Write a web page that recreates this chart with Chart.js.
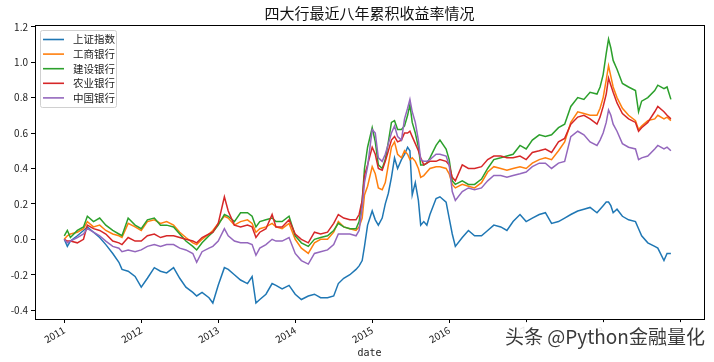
<!DOCTYPE html>
<html>
<head>
<meta charset="utf-8">
<script src="https://cdn.jsdelivr.net/npm/chart.js@4/dist/chart.umd.min.js"></script>
<style>
  body { margin: 0; background: #fff; }
  #wrap { width: 714px; height: 362px; }
</style>
</head>
<body>
<div id="wrap"><canvas id="returnsChart" width="714" height="362"></canvas></div>
<script>
const CJK = '"Noto Sans CJK SC", "Noto Sans", sans-serif';

const chartTitle = "四大行最近八年累积收益率情况";
const seriesNames = ["上证指数", "工商银行", "建设银行", "农业银行", "中国银行"];
const seriesColors = ["#1f77b4", "#ff7f0e", "#2ca02c", "#d62728", "#9467bd"];
const tickYears = [2011, 2012, 2013, 2014, 2015, 2016, 2017, 2018, 2019];
const tickValues = [-0.4, -0.2, 0.0, 0.2, 0.4, 0.6, 0.8, 1.0, 1.2];

// dates as decimal years
const dates = [
  2011.00, 2011.04, 2011.08, 2011.17, 2011.25, 2011.30, 2011.38, 2011.46, 2011.54, 2011.63,
  2011.71, 2011.75, 2011.83, 2011.92, 2012.00, 2012.08, 2012.17, 2012.25, 2012.33, 2012.42,
  2012.50, 2012.58, 2012.67, 2012.72, 2012.79, 2012.88, 2012.93, 2013.00, 2013.08, 2013.13,
  2013.21, 2013.29, 2013.38, 2013.44, 2013.49, 2013.54, 2013.62, 2013.70, 2013.75, 2013.83,
  2013.92, 2014.00, 2014.08, 2014.17, 2014.25, 2014.33, 2014.42, 2014.50, 2014.56, 2014.63,
  2014.71, 2014.79, 2014.83, 2014.87, 2014.90, 2014.94, 2015.00, 2015.04, 2015.08, 2015.13,
  2015.17, 2015.21, 2015.25, 2015.29, 2015.33, 2015.38, 2015.42, 2015.46, 2015.49, 2015.52,
  2015.56, 2015.60, 2015.63, 2015.67, 2015.71, 2015.75, 2015.83, 2015.88, 2015.96, 2016.00,
  2016.04, 2016.08, 2016.17, 2016.25, 2016.33, 2016.42, 2016.50, 2016.58, 2016.67, 2016.75,
  2016.83, 2016.92, 2017.00, 2017.08, 2017.17, 2017.25, 2017.33, 2017.42, 2017.50, 2017.58,
  2017.67, 2017.75, 2017.83, 2017.92, 2017.96, 2018.00, 2018.04, 2018.07, 2018.10, 2018.13,
  2018.18, 2018.25, 2018.33, 2018.42, 2018.46, 2018.50, 2018.58, 2018.67, 2018.71, 2018.79,
  2018.83, 2018.88
];

const shIndex = [
  0.00, -0.04, -0.01, 0.02, 0.05, 0.07, 0.04, 0.01, -0.03, -0.08,
  -0.13, -0.17, -0.18, -0.21, -0.27, -0.22, -0.16, -0.18, -0.19, -0.16,
  -0.22, -0.27, -0.30, -0.32, -0.30, -0.33, -0.36, -0.26, -0.16, -0.17,
  -0.20, -0.23, -0.25, -0.21, -0.36, -0.34, -0.31, -0.25, -0.26, -0.28,
  -0.26, -0.31, -0.34, -0.32, -0.31, -0.33, -0.33, -0.32, -0.25, -0.22,
  -0.20, -0.17, -0.15, -0.12, -0.04, 0.08, 0.16, 0.11, 0.08, 0.12,
  0.20, 0.26, 0.35, 0.46, 0.40, 0.45, 0.48, 0.52, 0.50, 0.25,
  0.32, 0.22, 0.08, 0.10, 0.08, 0.14, 0.23, 0.24, 0.21, 0.12,
  0.03, -0.04, 0.01, 0.05, 0.02, 0.02, 0.05, 0.08, 0.07, 0.05,
  0.10, 0.14, 0.10, 0.12, 0.14, 0.15, 0.09, 0.10, 0.12, 0.14,
  0.16, 0.17, 0.18, 0.15, 0.17, 0.19, 0.21, 0.21, 0.19, 0.15,
  0.17, 0.13, 0.11, 0.10, 0.06, 0.02, -0.02, -0.04, -0.05, -0.12,
  -0.08, -0.08
];

const icbc = [
  0.00, 0.02, 0.03, 0.04, 0.06, 0.10, 0.07, 0.08, 0.05, 0.03,
  0.02, 0.01, 0.09, 0.07, 0.05, 0.10, 0.11, 0.09, 0.10, 0.08,
  0.04, 0.01, -0.02, -0.03, 0.00, 0.03, 0.05, 0.09, 0.13, 0.12,
  0.08, 0.10, 0.11, 0.09, 0.04, 0.06, 0.07, 0.09, 0.07, 0.06,
  0.09, 0.00, -0.05, -0.08, -0.02, 0.00, 0.00, 0.04, 0.10, 0.07,
  0.06, 0.05, 0.07, 0.12, 0.25, 0.30, 0.41, 0.37, 0.29, 0.28,
  0.32, 0.42, 0.52, 0.55, 0.48, 0.46, 0.50, 0.48, 0.45, 0.46,
  0.44, 0.40, 0.35, 0.36, 0.38, 0.40, 0.41, 0.41, 0.40, 0.37,
  0.31, 0.29, 0.31, 0.30, 0.29, 0.32, 0.38, 0.41, 0.40, 0.39,
  0.40, 0.41, 0.40, 0.43, 0.45, 0.46, 0.45, 0.50, 0.55, 0.66,
  0.72, 0.71, 0.70, 0.70, 0.74, 0.80, 0.90, 0.98, 0.92, 0.86,
  0.80, 0.74, 0.70, 0.67, 0.62, 0.64, 0.67, 0.68, 0.70, 0.68,
  0.69, 0.67
];

const ccb = [
  0.02, 0.05, 0.01, 0.05, 0.07, 0.13, 0.10, 0.12, 0.08, 0.05,
  0.03, 0.02, 0.12, 0.08, 0.06, 0.11, 0.12, 0.08, 0.08, 0.07,
  0.03, -0.01, -0.04, -0.06, -0.02, 0.02, 0.04, 0.08, 0.14, 0.13,
  0.10, 0.15, 0.15, 0.13, 0.07, 0.10, 0.11, 0.12, 0.10, 0.10,
  0.13, 0.02, -0.02, -0.04, 0.00, 0.01, 0.02, 0.05, 0.09, 0.07,
  0.06, 0.06, 0.10, 0.22, 0.40, 0.52, 0.63, 0.55, 0.42, 0.40,
  0.45, 0.55, 0.66, 0.67, 0.62, 0.62, 0.64, 0.70, 0.76, 0.66,
  0.60, 0.52, 0.42, 0.42, 0.43, 0.46, 0.53, 0.56, 0.51, 0.45,
  0.33, 0.31, 0.33, 0.31, 0.31, 0.34, 0.40, 0.45, 0.46, 0.47,
  0.48, 0.53, 0.51, 0.56, 0.59, 0.58, 0.59, 0.63, 0.65, 0.75,
  0.80, 0.79, 0.83, 0.82, 0.86, 0.93, 1.05, 1.13, 1.08, 1.01,
  0.96, 0.88, 0.86, 0.84, 0.72, 0.78, 0.80, 0.84, 0.87, 0.85,
  0.86, 0.79
];

const abc = [
  0.00, -0.01, -0.01, -0.02, 0.00, 0.08, 0.06, 0.05, 0.03, -0.01,
  -0.02, -0.03, 0.01, -0.01, -0.01, 0.02, 0.03, 0.01, 0.02, 0.02,
  0.01, 0.00, -0.01, -0.02, 0.01, 0.03, 0.04, 0.09, 0.24, 0.16,
  0.08, 0.07, 0.08, 0.07, 0.01, 0.04, 0.06, 0.14, 0.07, 0.07,
  0.11, 0.03, 0.00, -0.02, 0.04, 0.03, 0.04, 0.09, 0.14, 0.12,
  0.11, 0.11, 0.14, 0.22, 0.36, 0.42, 0.52, 0.48, 0.40, 0.39,
  0.44, 0.50, 0.56, 0.58, 0.55, 0.56, 0.60, 0.60, 0.61, 0.58,
  0.54, 0.50, 0.46, 0.42, 0.43, 0.44, 0.44, 0.45, 0.44, 0.42,
  0.35, 0.33, 0.42, 0.40, 0.40, 0.41, 0.45, 0.47, 0.47, 0.46,
  0.46, 0.47, 0.45, 0.49, 0.50, 0.51, 0.49, 0.55, 0.57, 0.65,
  0.69, 0.70, 0.68, 0.65, 0.69, 0.75, 0.82, 0.91, 0.87, 0.83,
  0.77, 0.71, 0.68, 0.66, 0.61, 0.63, 0.66, 0.72, 0.75, 0.72,
  0.70, 0.68
];

const boc = [
  0.00, -0.02, -0.01, 0.01, 0.03, 0.06, 0.04, 0.02, -0.01, -0.04,
  -0.05, -0.07, -0.06, -0.07, -0.06, -0.04, -0.03, -0.04, -0.03, -0.03,
  -0.05, -0.06, -0.08, -0.13, -0.07, -0.05, -0.04, -0.01, 0.06, 0.02,
  -0.01, -0.02, -0.02, -0.03, -0.09, -0.05, -0.03, 0.00, -0.01, -0.01,
  0.01, -0.08, -0.12, -0.14, -0.08, -0.07, -0.06, -0.03, 0.03, 0.03,
  0.03, 0.02, 0.05, 0.18, 0.32, 0.41, 0.62, 0.60, 0.46, 0.44,
  0.48, 0.54, 0.60, 0.64, 0.58, 0.56, 0.68, 0.74, 0.79, 0.72,
  0.66, 0.56, 0.45, 0.44, 0.44, 0.45, 0.48, 0.48, 0.47, 0.42,
  0.27, 0.22, 0.27, 0.29, 0.28, 0.29, 0.33, 0.36, 0.36, 0.35,
  0.36, 0.37, 0.38, 0.41, 0.43, 0.43, 0.40, 0.43, 0.44, 0.58,
  0.61, 0.59, 0.55, 0.53, 0.56, 0.60, 0.66, 0.73, 0.70, 0.65,
  0.61, 0.54, 0.52, 0.51, 0.45, 0.46, 0.47, 0.51, 0.53, 0.51,
  0.52, 0.50
];

const seriesValues = [shIndex, icbc, ccb, abc, boc];

function toPoints(values) {
  return dates.map((d, i) => ({ x: d, y: values[i] }));
}

// matplotlib-like frame, title, legend and the watermark
const decorations = {
  id: "decorations",
  afterDraw(chart) {
    const { ctx, chartArea: a } = chart;
    ctx.save();

    ctx.strokeStyle = "#000";
    ctx.lineWidth = 1;
    ctx.strokeRect(a.left + 0.5, a.top + 0.5, a.right - a.left, a.bottom - a.top);

    ctx.fillStyle = "#111";
    ctx.font = `15px ${CJK}`;
    ctx.textAlign = "center";
    ctx.textBaseline = "middle";
    ctx.fillText(chartTitle, (a.left + a.right) / 2, 13);

    // legend box
    const lx = a.left + 5, ly = a.top + 5;
    ctx.fillStyle = "rgba(255,255,255,0.85)";
    ctx.strokeStyle = "#d0d0d0";
    ctx.beginPath();
    ctx.roundRect(lx + 0.5, ly + 0.5, 76, 77, 2);
    ctx.fill();
    ctx.stroke();
    ctx.font = `10.5px ${CJK}`;
    ctx.textAlign = "left";
    chart.data.datasets.forEach((ds, i) => {
      const y = ly + 9.5 + i * 14.6;
      ctx.strokeStyle = ds.borderColor;
      ctx.lineWidth = 1.6;
      ctx.beginPath();
      ctx.moveTo(lx + 3, y);
      ctx.lineTo(lx + 24, y);
      ctx.stroke();
      ctx.fillStyle = "#222";
      ctx.fillText(ds.label, lx + 33, y);
    });

    // watermark
    ctx.fillStyle = "rgba(255,255,255,0.88)";
    ctx.fillRect(500, a.bottom + 3, 212, 30);
    ctx.font = `19px ${CJK}`;
    ctx.textBaseline = "middle";
    ctx.lineWidth = 3;
    ctx.strokeStyle = "#fff";
    ctx.strokeText("头条 @Python金融量化", 505, 337);
    ctx.fillStyle = "#3a3a3a";
    ctx.fillText("头条 @Python金融量化", 505, 337);

    ctx.restore();
  }
};

function renderReturnsChart() {
  const el = document.getElementById("returnsChart");

  new Chart(el, {
    type: "line",
    data: {
      datasets: seriesNames.map((name, i) => ({
        label: name,
        data: toPoints(seriesValues[i]),
        borderColor: seriesColors[i],
        backgroundColor: seriesColors[i],
        borderWidth: 1.5,
        pointRadius: 0,
        tension: 0,
        fill: false,
        order: seriesNames.length - 1 - i,
      })),
    },
    options: {
      responsive: false,
      animation: false,
      events: [],
      layout: { padding: { left: 0, right: 10, top: 25, bottom: 0 } },
      plugins: {
        legend: { display: false },
        title: { display: false },
        tooltip: { enabled: false },
      },
      scales: {
        x: {
          type: "linear",
          min: 2010.62,
          max: 2019.31,
          afterBuildTicks: (s) => { s.ticks = tickYears.map((v) => ({ value: v })); },
          afterFit: (s) => { s.height = 43; },
          ticks: {
            autoSkip: false,
            minRotation: 30,
            maxRotation: 30,
            padding: 1,
            color: "#222",
            font: { family: CJK, size: 10 },
            callback: (v) => String(v),
          },
          grid: { drawOnChartArea: false, color: "#000", tickLength: 4 },
          border: { display: false },
          title: {
            display: true,
            text: "date",
            color: "#222",
            font: { family: '"DejaVu Sans Mono", monospace', size: 10 },
            padding: { top: 0, bottom: 3 },
          },
        },
        y: {
          min: -0.45,
          max: 1.21,
          afterBuildTicks: (s) => { s.ticks = tickValues.map((v) => ({ value: v })); },
          afterFit: (s) => { s.width = 35; },
          ticks: {
            padding: 3,
            color: "#222",
            font: { family: CJK, size: 10 },
            callback: (v) => v.toFixed(1),
          },
          grid: { drawOnChartArea: false, color: "#000", tickLength: 4 },
          border: { display: false },
        },
      },
    },
    plugins: [decorations],
  });
}

document.addEventListener("DOMContentLoaded", renderReturnsChart);
</script>
</body>
</html>
